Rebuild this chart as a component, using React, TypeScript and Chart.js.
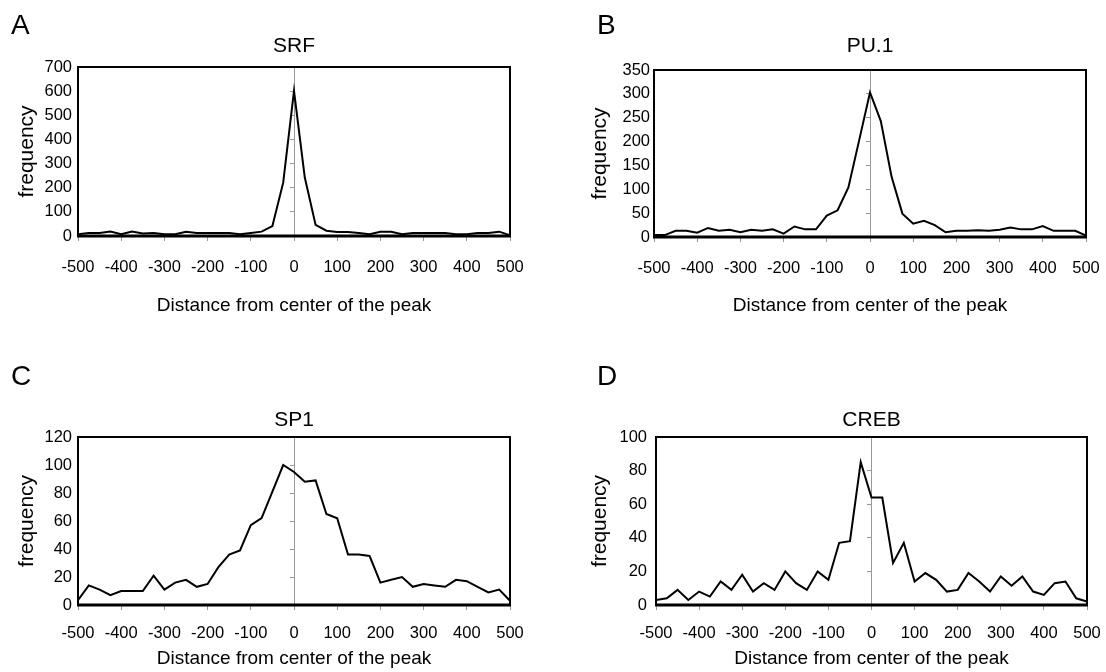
import React, { useEffect, useRef } from 'react';
import { Chart, registerables } from 'chart.js';

Chart.register(...registerables);

// ---------- data ----------
const distances = [
  -500, -475, -450, -425, -400, -375, -350, -325, -300, -275, -250, -225, -200, -175, -150, -125, -100, -75, -50, -25,
  0, 25, 50, 75, 100, 125, 150, 175, 200, 225, 250, 275, 300, 325, 350, 375, 400, 425, 450, 475, 500,
];

const srfFrequency = [
  7, 12, 12, 19, 7, 19, 10, 12, 7, 7, 18, 12, 12, 12, 12, 7, 12, 18, 41, 221,
  601, 242, 46, 22, 17, 17, 12, 7, 18, 18, 7, 12, 12, 12, 12, 7, 7, 12, 12, 18, 3,
];

const pu1Frequency = [
  4, 4, 13, 13, 9, 19, 13, 15, 10, 15, 13, 16, 7, 22, 16, 16, 45, 56, 104, 203,
  303, 243, 126, 49, 28, 34, 25, 10, 13, 13, 14, 13, 15, 20, 16, 16, 23, 13, 13, 13, 3,
];

const sp1Frequency = [
  3.5, 14, 11, 7, 10, 10, 10, 21, 11, 16, 18, 13, 15, 27, 36, 39, 57, 62, 81, 100,
  95, 88, 89, 65, 62, 36, 36, 35, 16, 18, 20, 13, 15, 14, 13, 18, 17, 13, 9, 11, 3,
];

const crebFrequency = [
  3, 4, 9, 3, 8, 5, 14, 9, 18, 8, 13, 9, 20, 13, 9, 20, 15, 37, 38, 85,
  64, 64, 25, 37, 14, 19, 15, 8, 9, 19, 14, 8, 17, 11.5, 17, 8, 6, 13, 14, 4, 2,
];

const panelLetters = ['A', 'B', 'C', 'D'];
const panelTitles = ['SRF', 'PU.1', 'SP1', 'CREB'];
const yMaxima = [700, 350, 120, 100];
const yStepSizes = [100, 50, 20, 20];
const xMin = -500;
const xMax = 500;
const xStep = 100;
const xAxisTitle = 'Distance from center of the peak';
const yAxisTitle = 'frequency';

const seriesList = [srfFrequency, pu1Frequency, sp1Frequency, crebFrequency];

// ---------- layout / style ----------
const FONT = "'Liberation Sans', Arial, Helvetica, sans-serif";
const CANVAS_W = 553;
const CANVAS_H = 336;
const TICK_SIZE = 16.5;
const XTITLE_SIZE = 19;
const YTITLE_SIZE = 21;

type Geometry = {
  left: number;
  top: number;
  padRight: number;
  titleTop: number;
  titleBottom: number;
  yWidth: number;
  yTickPad: number;
  yTitlePad: number;
  xHeight: number;
  xTickOffset: number;
  xTitlePad: number;
  letterLeft: number;
  letterTop: number;
};

const geometries: Geometry[] = [
  { left: 0, top: 0, padRight: 43, titleTop: 33.9, titleBottom: 7.9, yWidth: 78, yTickPad: 6, yTitlePad: 15, xHeight: 100, xTickOffset: 21.5, xTitlePad: 18.5, letterLeft: 11, letterTop: 11 },
  { left: 553, top: 0, padRight: 20, titleTop: 33.9, titleBottom: 10.9, yWidth: 101, yTickPad: 4, yTitlePad: 35, xHeight: 99, xTickOffset: 21.5, xTitlePad: 18.5, letterLeft: 597, letterTop: 11 },
  { left: 0, top: 336, padRight: 43, titleTop: 71.4, titleBottom: 4.4, yWidth: 78, yTickPad: 6, yTitlePad: 15, xHeight: 67, xTickOffset: 19, xTitlePad: 1.5, letterLeft: 11, letterTop: 362 },
  { left: 553, top: 336, padRight: 19, titleTop: 71.4, titleBottom: 4.4, yWidth: 103, yTickPad: 9, yTitlePad: 35, xHeight: 67, xTickOffset: 19, xTitlePad: 1.5, letterLeft: 597, letterTop: 362 },
];

const framePlugin = {
  id: 'plotFrame',
  afterDraw(chart: any) {
    const { ctx, chartArea } = chart;
    const { left, top, right, bottom } = chartArea;
    ctx.save();
    ctx.strokeStyle = '#000';
    ctx.lineWidth = 2;
    ctx.strokeRect(left, top, right - left, bottom - top);
    ctx.lineWidth = 3;
    ctx.beginPath();
    ctx.moveTo(left - 1, bottom);
    ctx.lineTo(right + 1, bottom);
    ctx.stroke();
    ctx.restore();
  },
};

function Panel({ index }: { index: number }) {
  const ref = useRef<HTMLCanvasElement>(null);
  const g = geometries[index];

  useEffect(() => {
    const canvas = ref.current;
    if (!canvas) return;
    const values = seriesList[index];
    const yMax = yMaxima[index];
    const step = yStepSizes[index];
    const tickFont = { family: FONT, size: TICK_SIZE };

    const chart = new Chart(canvas, {
      type: 'line',
      data: {
        datasets: [
          {
            data: distances.map((d, i) => ({ x: d, y: values[i] })),
            xAxisID: 'x',
            yAxisID: 'y',
            borderColor: '#000',
            borderWidth: 2,
            pointRadius: 0,
            tension: 0,
            fill: false,
          },
        ],
      },
      options: {
        animation: false,
        responsive: false,
        devicePixelRatio: 1,
        events: [],
        layout: { padding: { left: 0, right: g.padRight, top: 0, bottom: 0 } },
        plugins: {
          legend: { display: false },
          tooltip: { enabled: false },
          title: {
            display: true,
            text: panelTitles[index],
            fullSize: false,
            color: '#000',
            font: { family: FONT, size: 21, weight: 'normal' },
            padding: { top: g.titleTop, bottom: g.titleBottom },
          },
        },
        scales: {
          x: {
            type: 'linear',
            position: 'bottom',
            min: xMin,
            max: xMax,
            afterFit: (s: any) => {
              s.height = g.xHeight;
            },
            ticks: {
              stepSize: xStep,
              autoSkip: false,
              maxRotation: 0,
              padding: 0,
              color: '#000',
              font: tickFont,
            },
            grid: {
              display: true,
              drawOnChartArea: false,
              drawTicks: true,
              tickLength: g.xTickOffset,
              tickBorderDash: [5, 60],
              color: 'transparent',
              tickColor: '#999',
            },
            border: { display: false },
            title: {
              display: true,
              text: xAxisTitle,
              color: '#000',
              font: { family: FONT, size: XTITLE_SIZE },
              padding: { top: 0, bottom: g.xTitlePad },
            },
          },
          y: {
            type: 'linear',
            position: 'left',
            min: 0,
            max: yMax,
            afterFit: (s: any) => {
              s.width = g.yWidth;
            },
            ticks: {
              stepSize: step,
              padding: g.yTickPad,
              color: '#000',
              font: tickFont,
            },
            grid: { display: false, drawTicks: false },
            border: { display: false },
            title: {
              display: true,
              text: yAxisTitle,
              color: '#000',
              font: { family: FONT, size: YTITLE_SIZE },
              padding: { top: g.yTitlePad, bottom: 0 },
            },
          },
          yc: {
            type: 'linear',
            axis: 'y',
            position: { x: 0 },
            min: 0,
            max: yMax,
            ticks: { stepSize: step, display: false },
            grid: {
              display: true,
              drawOnChartArea: false,
              drawTicks: true,
              tickLength: 4,
              tickColor: '#999',
            },
            border: { display: true, color: '#999', width: 1 },
          },
        },
      } as any,
      plugins: [framePlugin],
    });
    return () => chart.destroy();
  }, [index]);

  return (
    <canvas
      ref={ref}
      width={CANVAS_W}
      height={CANVAS_H}
      style={{ position: 'absolute', left: g.left, top: g.top, width: CANVAS_W, height: CANVAS_H }}
    />
  );
}

export default function App() {
  return (
    <div
      style={{
        position: 'absolute',
        left: 0,
        top: 0,
        width: 1106,
        height: 672,
        background: '#fff',
        overflow: 'hidden',
      }}
    >
      {panelLetters.map((letter, i) => (
        <Panel key={'p' + i} index={i} />
      ))}
      {panelLetters.map((letter, i) => (
        <div
          key={'l' + i}
          style={{
            position: 'absolute',
            left: geometries[i].letterLeft,
            top: geometries[i].letterTop,
            fontFamily: FONT,
            fontSize: 28,
            lineHeight: '28px',
            color: '#000',
          }}
        >
          {letter}
        </div>
      ))}
    </div>
  );
}
